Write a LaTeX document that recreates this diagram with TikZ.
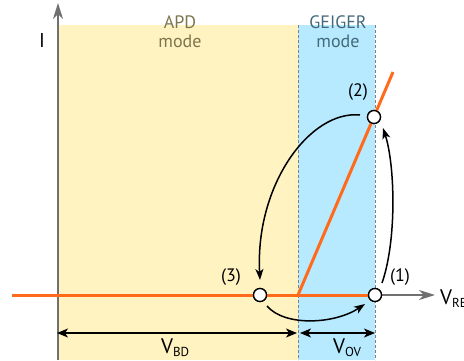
\documentclass[tikz,border=0pt]{standalone}
\usepackage{fontspec}
\setmainfont{PT Sans}
\usetikzlibrary{arrows.meta}
\definecolor{apdyellow}{RGB}{255,243,193}
\definecolor{geigerblue}{RGB}{183,234,254}
\definecolor{curveorange}{RGB}{255,107,26}
\definecolor{axisgray}{RGB}{112,112,112}
\definecolor{apdtext}{RGB}{125,117,76}
\definecolor{geigertext}{RGB}{66,106,122}
\tikzset{
  axisline/.style={draw=axisgray, line width=1.8pt, -{Stealth[length=16pt,width=10pt,inset=5pt]}},
  ivline/.style={draw=curveorange, line width=3pt},
  boundary/.style={draw=gray, line width=0.9pt, dash pattern=on 3pt off 2pt},
  pointnode/.style={circle, draw=black, fill=white, line width=1.3pt, inner sep=0pt, minimum size=13pt},
  cyclearrow/.style={draw=black, line width=1.5pt, -{Stealth[length=11pt,width=8pt,inset=3pt]}},
  dimarrow/.style={draw=black, line width=1.5pt, {Stealth[length=11pt,width=9pt,inset=3pt]}-{Stealth[length=11pt,width=9pt,inset=3pt]}},
  modetext/.style={font=\fontsize{18}{19}\selectfont, align=center, anchor=base},
  labeltext/.style={font=\fontsize{18}{20}\selectfont, anchor=base},
  vtext/.style={font=\fontsize{21}{23}\selectfont, anchor=base west, inner sep=0pt},
}
\newcommand{\mysub}[1]{\raisebox{-3pt}{\fontsize{13}{15}\selectfont #1}}
\begin{document}
\begin{tikzpicture}[x=1pt,y=-1pt]
\useasboundingbox (0,0) rectangle (464,360);
% regions
\fill[apdyellow] (58,25) rectangle (298,360);
\fill[geigerblue] (298,25) rectangle (375,360);
\coordinate (bdtop) at (298,25);
\coordinate (bdbot) at (298,360);
\coordinate (ovtop) at (375,25);
\coordinate (ovbot) at (375,360);
\draw[boundary] (bdtop) -- (bdbot);
\draw[boundary] (ovtop) -- (ovbot);
% axes
\coordinate (yorigin) at (58,360);
\coordinate (ytip) at (58,3);
\draw[axisline] (yorigin) -- (ytip);
% IV curve
\coordinate (leftend) at (12,295);
\coordinate (knee) at (298,295);
\coordinate (topend) at (393,72);
\node[pointnode] (c1) at (375,295) {};
\node[pointnode] (c2) at (374,117) {};
\node[pointnode] (c3) at (260,295) {};
\coordinate (xtip) at (435,295);
\draw[axisline] (c1.east) -- (xtip);
\draw[ivline] (leftend) -- (c3.west);
\draw[ivline] (c3.east) -- (c1.west);
\draw[ivline] (knee) -- (topend);
\node[pointnode] at (c1) {};
\node[pointnode] at (c2) {};
\node[pointnode] at (c3) {};
% cycle arrows
\draw[cyclearrow] ([shift={(7,-12)}]c1.center) .. controls (397,240) and (395,165) .. ([shift={(9,11)}]c2.center);
\draw[cyclearrow] ([shift={(-14,-2)}]c2.center) .. controls (310,110) and (255,185) .. ([shift={(0,-15)}]c3.center);
\draw[cyclearrow] ([shift={(7,11)}]c3.center) .. controls (285,327) and (335,324) .. ([shift={(-10,9)}]c1.center);
% dimension arrows
\coordinate (bdl) at (57,333);
\coordinate (bdr) at (297,333);
\coordinate (ovl) at (300,333);
\coordinate (ovr) at (375,333);
\draw[dimarrow] (bdl) -- (bdr);
\draw[dimarrow] (ovl) -- (ovr);
% texts
\node[labeltext, font=\fontsize{20}{22}\selectfont] (ilabel) at (42,47) {I};
\node[modetext, text=apdtext] (apd) at (180,47) {APD\\mode};
\node[modetext, text=geigertext] (geiger) at (338,47) {GEIGER\\mode};
\node[labeltext] (l2) at (358,96) {(2)};
\node[labeltext] (l3) at (231,281) {(3)};
\node[labeltext] (l1) at (400,281) {(1)};
\node[vtext] (vbd) at (161,353) {V\mysub{BD}};
\node[vtext] (vov) at (333,353) {V\mysub{OV}};
\node[vtext] (vrev) at (440,304) {V\mysub{REV}};
\end{tikzpicture}
\end{document}
